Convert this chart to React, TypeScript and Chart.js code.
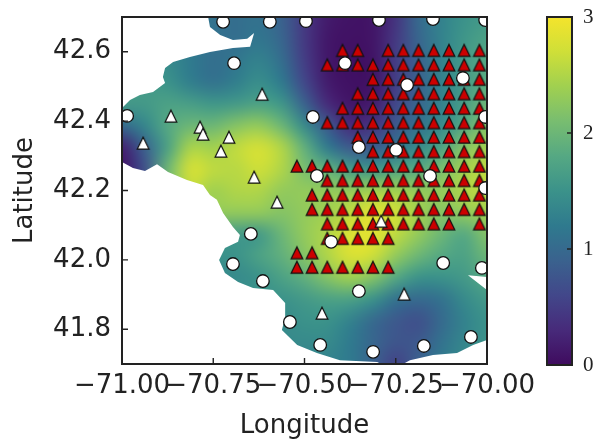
import React, { useEffect, useRef } from "react";
import { Chart, registerables } from "chart.js";

Chart.register(...registerables);

const X_TICKS = [-71, -70.75, -70.5, -70.25, -70];
const Y_TICKS = [41.8, 42.0, 42.2, 42.4, 42.6];
const CB_TICKS = [0, 1, 2, 3];

const CIRCLE_LON = [-70.723,-70.595,-70.496,-70.296,-70.148,-70.005,-70.693,-70.389,-70.219,-70.066,-70.986,-70.477,-70.005,-70.351,-70.249,-70.466,-70.156,-70.005,-70.647,-70.696,-70.614,-70.54,-70.427,-70.12,-70.014,-70.351,-70.457,-70.312,-70.173,-70.044];
const CIRCLE_LAT = [42.686,42.686,42.688,42.691,42.694,42.691,42.567,42.567,42.504,42.524,42.415,42.412,42.412,42.325,42.317,42.242,42.242,42.207,42.075,41.988,41.939,41.821,42.052,41.991,41.977,41.91,41.755,41.735,41.752,41.778];

const WHITE_TRI_LON = [-70.616,-70.866,-70.786,-70.778,-70.707,-70.942,-70.729,-70.638,-70.575,-70.29,-70.227,-70.452];
const WHITE_TRI_LAT = [42.478,42.415,42.383,42.363,42.354,42.337,42.314,42.239,42.167,42.112,41.902,41.847];

const RED_LON = [-70.5208,-70.4792,-70.4375,-70.3958,-70.3542,-70.3125,-70.2708,-70.2292,-70.1875,-70.1458,-70.1042,-70.0625,-70.0208];
const RED_LAT = [42.6042,42.5625,42.5208,42.4792,42.4375,42.3958,42.3542,42.3125,42.2708,42.2292,42.1875,42.1458,42.1042,42.0625,42.0208,41.9792];
const RED_COLS = [
  [3,4,6,7,8,9,10,11,12],
  [2,3,4,5,6,7,8,9,10,11,12],
  [5,6,7,8,9,10,11,12],
  [4,5,6,7,8,9,10,11,12],
  [3,4,5,6,7,8,9,10,11,12],
  [2,3,4,5,6,7,8,9,10,11,12],
  [4,5,6,7,8,9,10,11,12],
  [5,6,7,8,9,10,11,12],
  [0,1,2,3,4,5,6,7,8,9,10,11,12],
  [2,3,4,5,6,7,8,9,10,11,12],
  [1,2,3,4,5,6,7,8,9,10,11,12],
  [1,2,3,4,5,6,7,8,9,10,11,12],
  [2,3,4,5,6,7,8,9,10,12],
  [2,3,4,5,6],
  [0,1],
  [0,1,2,3,4,5,6],
];

const COAST_LON = [-70.764,-70.759,-70.731,-70.696,-70.657,-70.638,-70.649,-70.696,-70.759,-70.814,-70.86,-70.882,-70.888,-70.882,-70.915,-70.951,-70.978,-71,-71,-70.97,-70.937,-70.904,-70.874,-70.822,-70.778,-70.759,-70.74,-70.723,-70.696,-70.677,-70.682,-70.718,-70.734,-70.718,-70.682,-70.641,-70.586,-70.553,-70.553,-70.562,-70.52,-70.466,-70.403,-70.301,-70.29,-70.23,-70.211,-70.148,-70.082,-70.038,-70,-70,-70.052,-70,-70];
const COAST_LAT = [42.7,42.671,42.648,42.634,42.637,42.654,42.614,42.611,42.599,42.585,42.57,42.553,42.527,42.51,42.484,42.475,42.461,42.438,42.282,42.265,42.256,42.276,42.253,42.23,42.216,42.187,42.173,42.135,42.095,42.072,42.052,42.034,42,41.962,41.936,41.919,41.913,41.876,41.833,41.798,41.755,41.732,41.711,41.706,41.7,41.7,41.711,41.726,41.732,41.755,41.769,41.913,41.956,41.951,42.7];

const FIELD_LON0 = -71;
const FIELD_LAT0 = 42.7;
const FIELD_STEP = 0.0625;
const FIELD = [
  [1.4,1.4,1.3,1.2,1.1,1.05,1.1,0.9,0.45,0.15,0.08,0.1,0.4,1.0,1.3,1.5,1.6],
  [1.4,1.4,1.3,1.2,1.1,1.05,1.15,0.95,0.45,0.12,0.06,0.1,0.45,0.95,1.3,1.55,1.7],
  [1.5,1.5,1.4,1.2,1.05,1.15,1.3,1.05,0.5,0.12,0.05,0.08,0.5,0.9,1.3,1.6,1.8],
  [1.6,1.6,1.5,1.25,1.1,1.25,1.45,1.2,0.6,0.15,0.05,0.08,0.5,0.9,1.3,1.6,1.85],
  [1.6,1.6,1.7,1.65,1.55,1.6,1.7,1.55,0.9,0.3,0.1,0.15,0.6,0.95,1.3,1.65,2.0],
  [1.0,1.35,1.8,2.0,2.0,2.2,2.3,2.0,1.4,0.8,0.3,0.4,0.8,1.1,1.4,1.8,2.2],
  [0.2,0.9,1.7,2.45,2.4,2.6,2.75,2.5,1.9,1.2,0.8,0.8,1.1,1.4,1.7,2.2,2.4],
  [0.1,0.7,2.0,2.75,2.6,2.55,2.7,2.5,2.1,1.9,1.6,1.5,1.7,1.8,2.1,2.4,2.6],
  [0.1,0.7,2.0,2.6,2.4,2.5,2.5,2.3,2.3,2.3,2.3,2.4,2.4,2.3,2.3,2.5,2.6],
  [2.0,2.0,2.0,2.3,2.3,2.3,2.3,2.2,2.3,2.4,2.6,2.85,2.7,2.4,2.2,2.3,2.4],
  [1.6,1.6,1.6,1.6,1.6,1.6,1.6,2.0,2.3,2.5,2.8,2.85,2.6,2.3,2.0,1.8,2.2],
  [1.5,1.5,1.5,1.5,1.5,1.5,1.7,1.9,2.2,2.5,2.8,2.7,2.3,2.0,1.8,1.7,2.0],
  [1.4,1.4,1.4,1.4,1.4,1.4,1.5,1.7,1.9,2.2,2.4,2.2,1.8,1.5,1.5,1.6,1.8],
  [1.5,1.5,1.5,1.5,1.5,1.5,1.5,1.5,1.6,1.7,1.7,1.5,1.1,1.0,1.1,1.4,1.6],
  [1.4,1.4,1.4,1.4,1.4,1.4,1.4,1.4,1.5,1.5,1.3,1.0,0.8,0.7,1.0,1.3,1.5],
  [1.4,1.4,1.4,1.4,1.4,1.4,1.4,1.4,1.4,1.4,1.2,0.95,0.75,0.8,1.1,1.35,1.5],
  [1.4,1.4,1.4,1.4,1.4,1.4,1.4,1.4,1.3,1.3,1.2,0.9,0.55,0.9,1.2,1.4,1.5],
];

const PALETTE = ["#3f0b5e","#472a7a","#42478a","#3a628e","#2f7a8e","#3b928a","#55a883","#78bd70","#a0d050","#cfdf38","#f4e42c"];
const CB_MIN = 0;
const CB_MAX = 3;

const INK = "#222222";
const SANS = "'DejaVu Sans', sans-serif";
const SERIF = "'Liberation Serif', serif";

function hexRgb(h: string) {
  return [1, 3, 5].map((i) => parseInt(h.slice(i, i + 2), 16));
}
function colourAt(v: number) {
  const t = Math.min(1, Math.max(0, (v - CB_MIN) / (CB_MAX - CB_MIN))) * (PALETTE.length - 1);
  const i = Math.min(PALETTE.length - 2, Math.floor(t));
  const a = hexRgb(PALETTE[i]);
  const b = hexRgb(PALETTE[i + 1]);
  return a.map((c, k) => Math.round(c + (b[k] - c) * (t - i)));
}

function triangleSprite(fill: string) {
  const c = document.createElement("canvas");
  c.width = 16;
  c.height = 16;
  const g = c.getContext("2d")!;
  g.beginPath();
  g.moveTo(8, 2.2);
  g.lineTo(13.8, 14);
  g.lineTo(2.2, 14);
  g.closePath();
  g.fillStyle = fill;
  g.fill();
  g.lineWidth = 1.25;
  g.lineJoin = "miter";
  g.strokeStyle = "#111111";
  g.stroke();
  return c;
}

const heatField = {
  id: "heatField",
  beforeDatasetsDraw(chart: any) {
    const { ctx, scales, chartArea } = chart;
    const sx = scales.x;
    const sy = scales.y;
    const rows = FIELD.length;
    const cols = FIELD[0].length;
    const off = document.createElement("canvas");
    off.width = cols;
    off.height = rows;
    const oc = off.getContext("2d")!;
    const img = oc.createImageData(cols, rows);
    FIELD.forEach((row, j) =>
      row.forEach((v, i) => {
        const [r, g, b] = colourAt(v);
        const p = (j * cols + i) * 4;
        img.data[p] = r;
        img.data[p + 1] = g;
        img.data[p + 2] = b;
        img.data[p + 3] = 255;
      })
    );
    oc.putImageData(img, 0, 0);
    ctx.save();
    ctx.beginPath();
    ctx.rect(chartArea.left, chartArea.top, chartArea.width, chartArea.height);
    ctx.clip();
    ctx.beginPath();
    COAST_LON.forEach((lon, i) => {
      const px = sx.getPixelForValue(lon);
      const py = sy.getPixelForValue(COAST_LAT[i]);
      if (i === 0) ctx.moveTo(px, py);
      else ctx.lineTo(px, py);
    });
    ctx.closePath();
    ctx.clip();
    ctx.imageSmoothingEnabled = true;
    ctx.imageSmoothingQuality = "high";
    const x0 = sx.getPixelForValue(FIELD_LON0 - FIELD_STEP / 2);
    const x1 = sx.getPixelForValue(FIELD_LON0 + (cols - 0.5) * FIELD_STEP);
    const y0 = sy.getPixelForValue(FIELD_LAT0 + FIELD_STEP / 2);
    const y1 = sy.getPixelForValue(FIELD_LAT0 - (rows - 0.5) * FIELD_STEP);
    ctx.drawImage(off, x0, y0, x1 - x0, y1 - y0);
    ctx.restore();
  },
};

const frame = {
  id: "frame",
  afterDatasetsDraw(chart: any) {
    const { ctx, chartArea, scales } = chart;
    ctx.save();
    ctx.strokeStyle = INK;
    ctx.lineWidth = 2;
    ctx.strokeRect(chartArea.left, chartArea.top, chartArea.width, chartArea.height);
    ctx.lineWidth = 1.4;
    ctx.beginPath();
    if (scales.x && scales.x.options.display !== false) {
      scales.x.ticks.forEach((t: any) => {
        const p = scales.x.getPixelForValue(t.value);
        ctx.moveTo(p, chartArea.bottom);
        ctx.lineTo(p, chartArea.bottom - 6);
      });
    }
    if (scales.y && scales.y.position === "left") {
      scales.y.ticks.forEach((t: any) => {
        const p = scales.y.getPixelForValue(t.value);
        ctx.moveTo(chartArea.left, p);
        ctx.lineTo(chartArea.left + 6, p);
      });
    }
    if (scales.y && scales.y.position === "right") {
      scales.y.ticks.forEach((t: any) => {
        const p = scales.y.getPixelForValue(t.value);
        ctx.moveTo(chartArea.right, p);
        ctx.lineTo(chartArea.right - 5, p);
      });
    }
    ctx.stroke();
    ctx.restore();
  },
};

export default function App() {
  const mainRef = useRef<HTMLCanvasElement>(null);
  const barRef = useRef<HTMLCanvasElement>(null);

  useEffect(() => {
    const redPoints = RED_COLS.flatMap((cols, r) => cols.map((c) => ({ x: RED_LON[c], y: RED_LAT[r] })));
    const noClip = { left: 0, top: 0, right: 0, bottom: 0 };
    const main = new Chart(mainRef.current!, {
      type: "scatter",
      plugins: [heatField, frame],
      data: {
        datasets: [
          {
            label: "Stations",
            data: CIRCLE_LON.map((x, i) => ({ x, y: CIRCLE_LAT[i] })),
            pointStyle: "circle",
            pointRadius: 6.3,
            pointBorderWidth: 1.3,
            pointBackgroundColor: "#ffffff",
            pointBorderColor: "#111111",
            clip: noClip,
            order: 1,
          },
          {
            label: "Other stations",
            data: WHITE_TRI_LON.map((x, i) => ({ x, y: WHITE_TRI_LAT[i] })),
            pointStyle: triangleSprite("#ffffff"),
            pointRadius: 7,
            clip: noClip,
            order: 2,
          },
          {
            label: "Grid",
            data: redPoints,
            pointStyle: triangleSprite("#cc0000"),
            pointRadius: 7,
            clip: noClip,
            order: 3,
          },
        ] as any,
      },
      options: {
        animation: false,
        responsive: false,
        layout: { padding: { top: 17, right: 112, left: 0, bottom: 0 } },
        plugins: { legend: { display: false }, tooltip: { enabled: false } },
        scales: {
          x: {
            type: "linear",
            min: -71,
            max: -70,
            grid: { display: false, drawTicks: false },
            border: { display: false },
            afterBuildTicks: (s: any) => { s.ticks = X_TICKS.map((value) => ({ value })); },
            afterFit: (s: any) => { s.height = 75; s.paddingLeft = 0; s.paddingRight = 0; },
            ticks: {
              autoSkip: false,
              maxRotation: 0,
              padding: 7,
              color: INK,
              font: { family: SANS, size: 26 },
              callback: (v: any) => `${Number(v) < 0 ? "\u2212" : ""}${Math.abs(Number(v)).toFixed(2)}`,
            },
            title: { display: true, text: "Longitude", color: INK, font: { family: SANS, size: 26 }, padding: { top: 2, bottom: -3 } },
          },
          y: {
            type: "linear",
            min: 41.7,
            max: 42.7,
            grid: { display: false, drawTicks: false },
            border: { display: false },
            afterBuildTicks: (s: any) => { s.ticks = Y_TICKS.map((value) => ({ value })); },
            afterFit: (s: any) => { s.width = 122; s.paddingTop = 0; s.paddingBottom = 0; },
            ticks: {
              autoSkip: false,
              padding: 11,
              color: INK,
              font: { family: SANS, size: 26 },
              callback: (v: any) => Number(v).toFixed(1),
            },
            title: { display: true, text: "Latitude", color: INK, font: { family: SANS, size: 26 }, padding: { top: 10, bottom: 0 } },
          },
        } as any,
      },
    });

    const bar = new Chart(barRef.current!, {
      type: "bar",
      plugins: [frame],
      data: {
        labels: ["scale"],
        datasets: [
          {
            data: [CB_MAX],
            barPercentage: 1,
            categoryPercentage: 1,
            backgroundColor: (c: any) => {
              const a = c.chart.chartArea;
              if (!a) return PALETTE[0];
              const y = c.chart.scales.y;
              const g = c.chart.ctx.createLinearGradient(0, y.getPixelForValue(CB_MIN), 0, y.getPixelForValue(CB_MAX));
              PALETTE.forEach((col, i) => g.addColorStop(i / (PALETTE.length - 1), col));
              return g;
            },
          },
        ] as any,
      },
      options: {
        animation: false,
        responsive: false,
        layout: { padding: { top: 17, right: 0, left: 17, bottom: 74 } },
        plugins: { legend: { display: false }, tooltip: { enabled: false } },
        scales: {
          x: { display: false },
          y: {
            position: "right",
            min: CB_MIN,
            max: CB_MAX,
            grid: { display: false, drawTicks: false },
            border: { display: false },
            afterBuildTicks: (s: any) => { s.ticks = CB_TICKS.map((value) => ({ value })); },
            afterFit: (s: any) => { s.width = 27; s.paddingTop = 0; s.paddingBottom = 0; },
            ticks: { padding: 11, color: INK, font: { family: SERIF, size: 21 } },
          },
        } as any,
      },
    });

    return () => {
      main.destroy();
      bar.destroy();
    };
  }, []);

  return (
    <div style={{ position: "absolute", left: 0, top: 0, width: 599, height: 439, background: "#fff" }}>
      <canvas ref={mainRef} width={599} height={439} style={{ position: "absolute", left: 0, top: 0 }} />
      <canvas ref={barRef} width={69} height={439} style={{ position: "absolute", left: 530, top: 0 }} />
    </div>
  );
}
